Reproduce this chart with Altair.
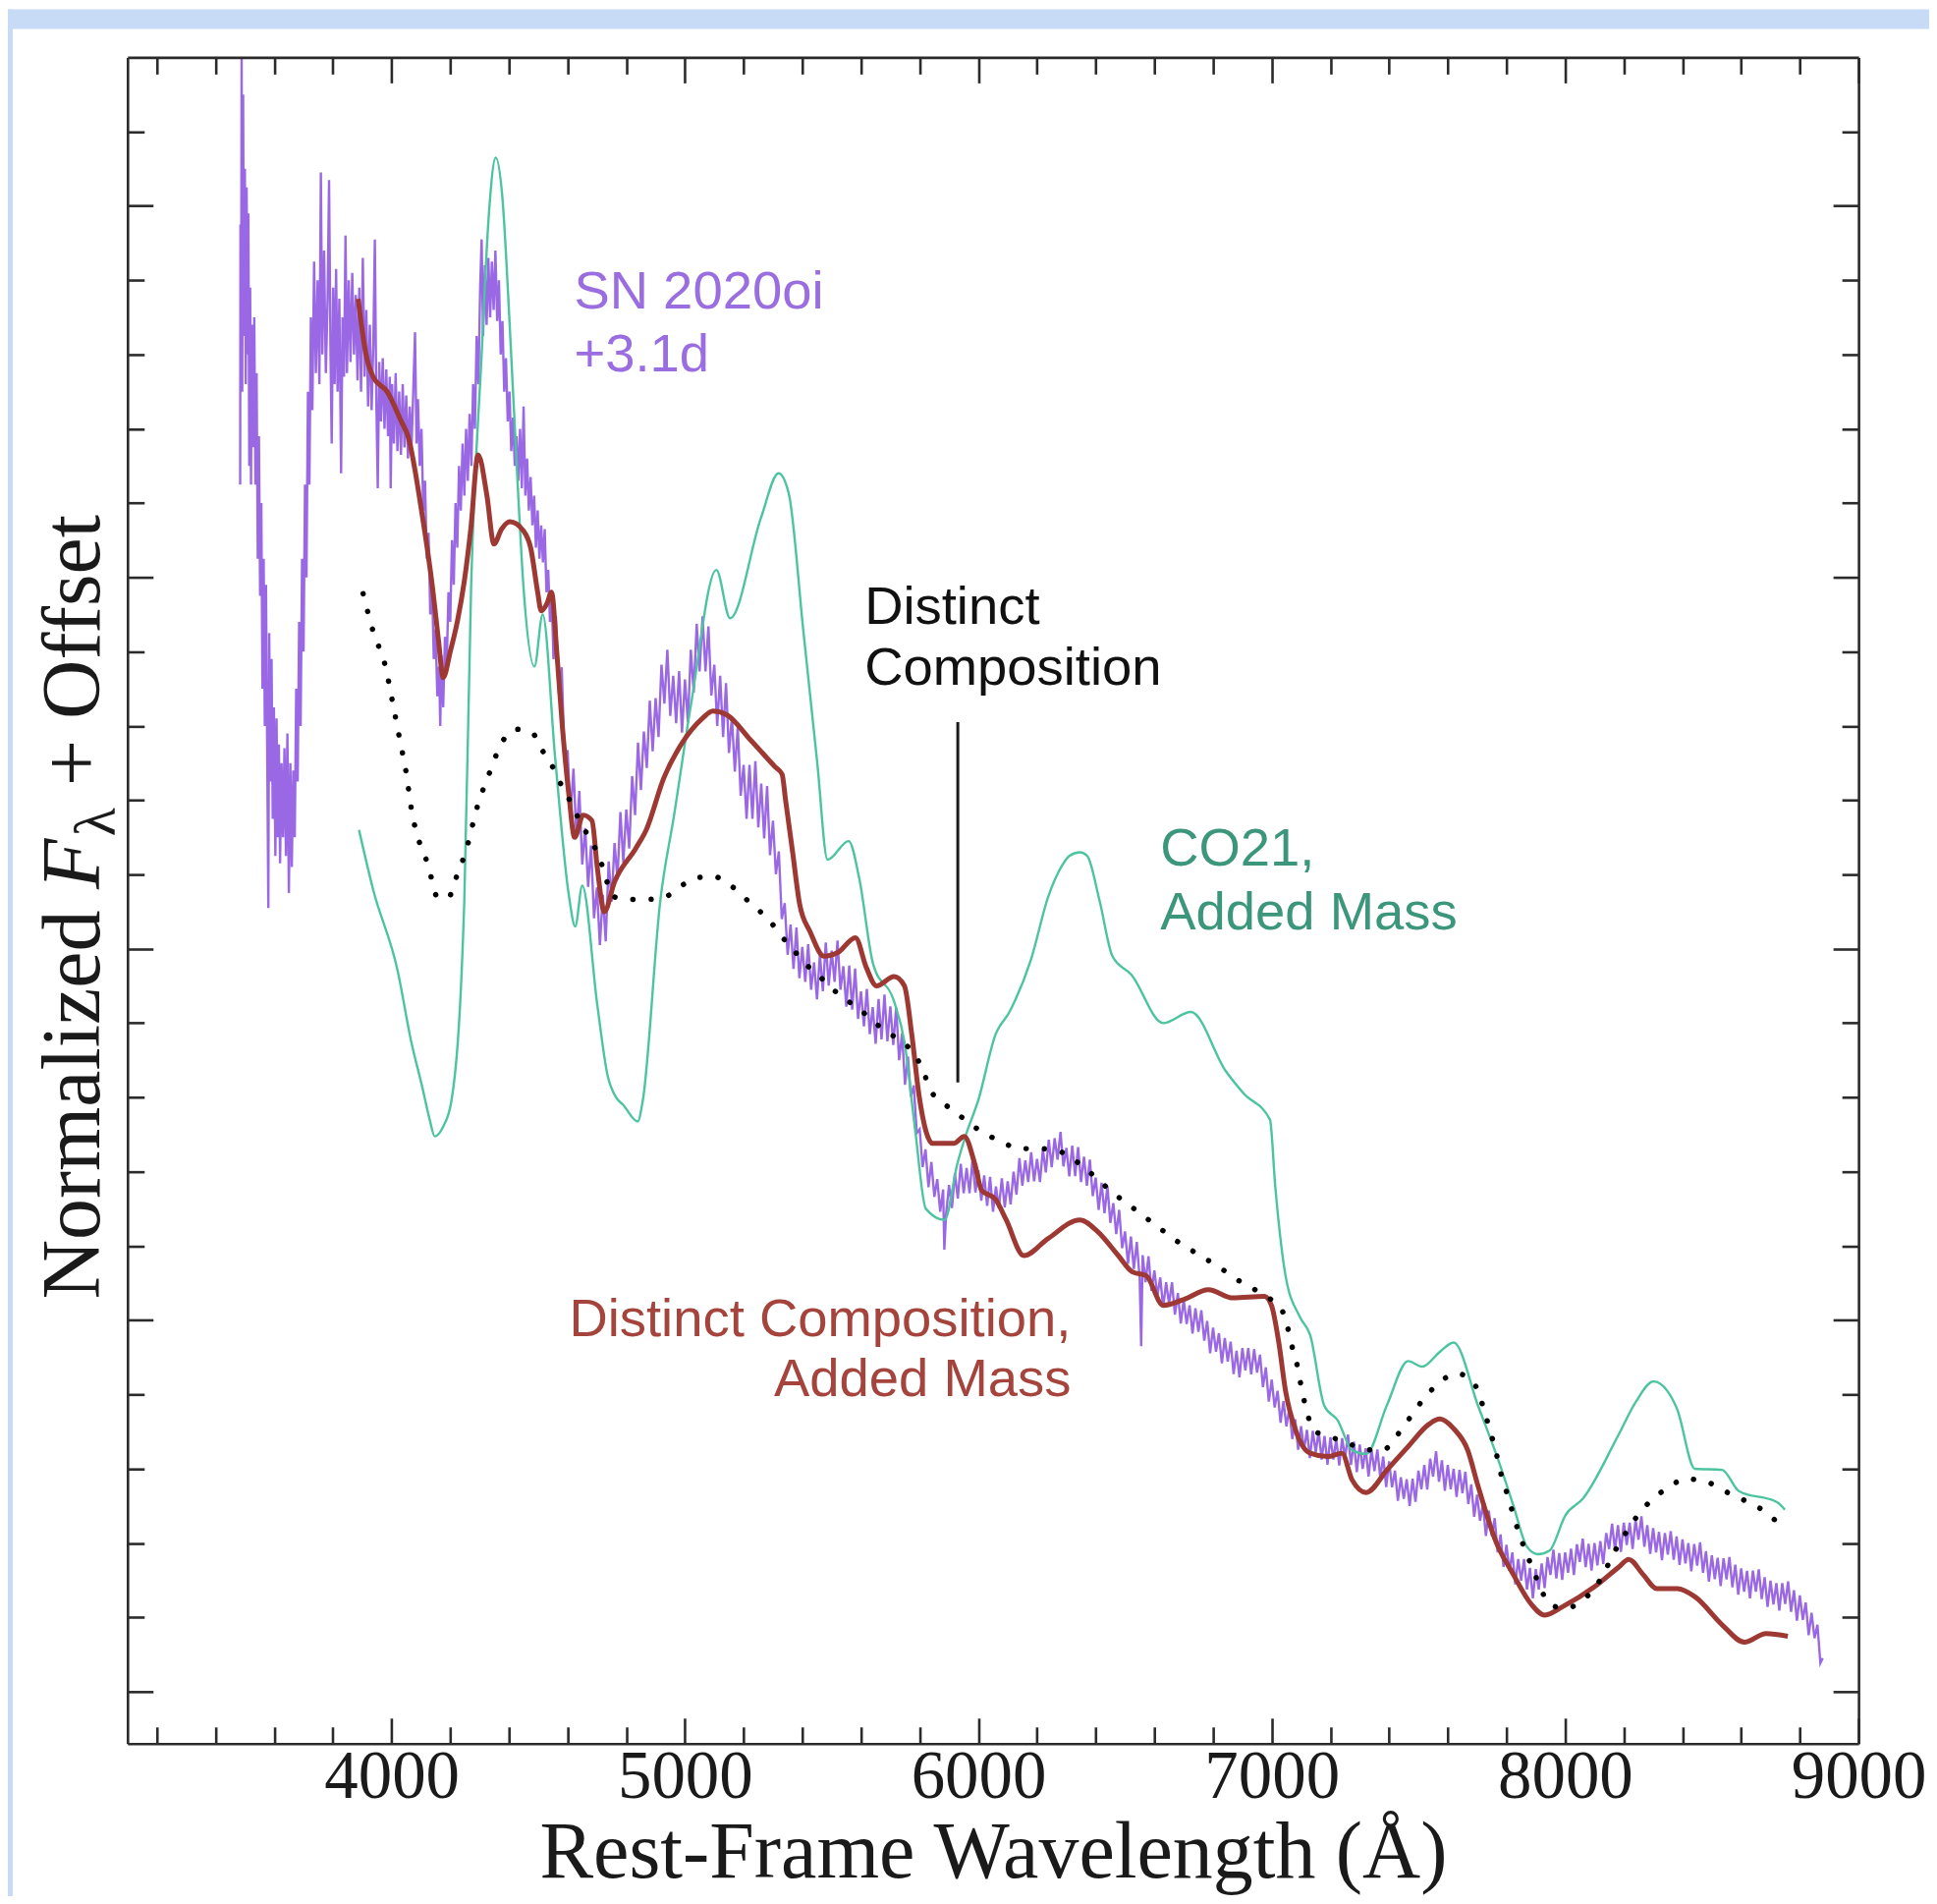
import altair as alt
import pandas as pd

# ---------------- layout ----------------
W, H = 1765, 1719
SERIF = "Liberation Serif, Times New Roman, serif"
SANS = "Liberation Sans, Helvetica, Arial, sans-serif"
INK = "#1a1a1a"
FRAME = "#2b2b2b"

X_DOMAIN = [3100, 9000]
Y_DOMAIN = [-1.4, 44.0]
X_MAJOR = [4000, 5000, 6000, 7000, 8000, 9000]
X_MINOR = [w for w in range(3200, 9000, 200) if w % 1000 != 0]
Y_MAJOR = [0, 10, 20, 30, 40]
Y_MINOR = [v for v in range(2, 44, 2) if v % 10 != 0]

# ---------------- data (wavelength in Angstrom, normalized flux + offset) ----------------
SN_2020OI = [
    (3484, 32.5), (3485, 39.5), (3487, 36.0), (3489, 44.0), (3491, 35.0), (3494, 43.0), (3497, 36.5), (3500, 41.0),
    (3503, 35.2), (3506, 40.5), (3509, 36.0), (3512, 39.8), (3515, 33.0), (3518, 37.8), (3521, 32.5), (3524, 36.8),
    (3528, 33.5), (3532, 37.0), (3536, 32.5), (3540, 35.5), (3544, 30.5), (3548, 33.8), (3552, 29.5), (3556, 32.0),
    (3560, 27.0), (3564, 30.5), (3568, 26.0), (3572, 29.8), (3576, 25.5), (3580, 21.1), (3583, 28.5), (3587, 24.5),
    (3591, 27.8), (3595, 23.5), (3599, 26.5), (3604, 22.5), (3608, 26.2), (3612, 23.0), (3616, 25.5), (3620, 22.3),
    (3625, 25.0), (3630, 23.0), (3635, 25.4), (3640, 22.5), (3645, 25.8), (3650, 21.5), (3655, 25.0), (3660, 22.2),
    (3665, 24.8), (3670, 23.0), (3675, 27.0), (3680, 24.5), (3685, 28.8), (3690, 26.0), (3695, 30.5), (3700, 28.0),
    (3705, 32.5), (3710, 30.0), (3715, 35.0), (3720, 32.5), (3725, 37.0), (3730, 34.5), (3736, 38.5), (3742, 35.5),
    (3748, 38.0), (3754, 35.2), (3759, 40.9), (3764, 36.0), (3770, 38.8), (3776, 35.5), (3782, 37.5), (3787, 40.7),
    (3792, 36.0), (3796, 33.6), (3801, 37.8), (3806, 35.2), (3811, 38.3), (3816, 35.0), (3822, 37.5), (3828, 32.8),
    (3833, 37.0), (3838, 35.4), (3843, 39.2), (3848, 35.5), (3854, 38.0), (3860, 35.8), (3866, 38.2), (3872, 36.0),
    (3878, 37.6), (3884, 35.3), (3890, 37.8), (3896, 35.0), (3902, 38.6), (3908, 35.4), (3914, 37.2), (3920, 34.6),
    (3926, 36.8), (3932, 34.5), (3938, 36.3), (3943, 39.1), (3948, 34.8), (3953, 32.4), (3958, 35.8), (3964, 34.2),
    (3970, 35.9), (3976, 34.0), (3982, 35.6), (3988, 33.8), (3994, 35.4), (3997, 32.4), (4002, 35.2), (4008, 33.6),
    (4014, 35.5), (4020, 33.4), (4026, 35.0), (4032, 33.3), (4038, 35.2), (4044, 33.5), (4050, 34.9), (4056, 33.2),
    (4062, 34.6), (4068, 33.5), (4074, 35.0), (4080, 36.6), (4085, 33.6), (4090, 34.8), (4096, 33.0), (4102, 34.0),
    (4108, 31.8), (4114, 32.6), (4120, 30.5), (4126, 31.2), (4132, 29.0), (4138, 29.8), (4144, 27.8), (4150, 28.6),
    (4156, 26.8), (4162, 27.6), (4166, 26.0), (4170, 27.9), (4176, 26.5), (4182, 28.4), (4188, 27.6), (4194, 29.6),
    (4200, 28.8), (4206, 31.0), (4212, 29.8), (4218, 32.0), (4224, 30.8), (4230, 33.0), (4236, 31.8), (4242, 33.6),
    (4248, 32.2), (4254, 34.0), (4260, 32.6), (4266, 34.4), (4272, 33.0), (4278, 35.2), (4284, 34.0), (4290, 36.5),
    (4296, 35.2), (4302, 37.8), (4307, 39.1), (4312, 36.5), (4318, 38.4), (4324, 36.8), (4330, 38.6), (4336, 37.0),
    (4342, 38.5), (4348, 37.2), (4354, 38.8), (4360, 36.9), (4366, 38.0), (4372, 36.0), (4378, 36.9), (4384, 35.0),
    (4390, 35.9), (4396, 34.2), (4402, 35.0), (4408, 33.4), (4414, 34.3), (4420, 33.0), (4426, 33.8), (4432, 32.6),
    (4438, 34.0), (4444, 32.4), (4450, 34.6), (4456, 32.2), (4462, 33.2), (4468, 31.8), (4474, 32.7), (4480, 31.4),
    (4486, 32.2), (4492, 30.8), (4498, 31.8), (4504, 30.5), (4510, 31.4), (4516, 30.4), (4522, 31.3), (4528, 29.6),
    (4534, 30.2), (4540, 28.8), (4546, 29.4), (4552, 27.8),
    (4560, 28.95), (4570, 26.87), (4580, 27.58), (4590, 25.02), (4600, 25.35), (4610, 23.6), (4620, 24.85), (4630, 23.0),
    (4640, 24.25), (4650, 22.27), (4660, 23.25), (4670, 21.67), (4680, 22.78), (4690, 20.82), (4700, 21.65), (4710, 20.1),
    (4720, 21.45), (4730, 20.2), (4740, 22.35), (4750, 21.27), (4760, 22.85), (4770, 21.87), (4780, 23.68), (4790, 22.32),
    (4800, 23.75), (4810, 22.7), (4820, 24.65), (4830, 23.6), (4840, 25.55), (4850, 24.27), (4860, 25.85), (4870, 24.87),
    (4880, 26.68), (4890, 25.32), (4900, 26.75), (4910, 25.7), (4920, 27.65), (4930, 26.6), (4940, 28.05), (4950, 26.27),
    (4960, 27.35), (4970, 26.07), (4980, 27.48), (4990, 25.82), (5000, 27.25), (5010, 26.1), (5020, 28.05), (5030, 26.9),
    (5040, 28.75), (5050, 27.47), (5060, 28.95), (5070, 27.47), (5080, 28.68), (5090, 26.82), (5100, 27.65), (5110, 26.0),
    (5120, 27.35), (5130, 25.7), (5140, 27.15), (5150, 25.27), (5160, 26.25), (5170, 24.77), (5180, 25.98), (5190, 24.12),
    (5200, 24.95), (5210, 23.5), (5220, 24.95), (5230, 23.5), (5240, 25.05), (5250, 23.27), (5260, 24.45), (5270, 22.97),
    (5280, 24.38), (5290, 22.52), (5300, 23.45), (5310, 22.01), (5320, 22.62), (5330, 20.8), (5340, 21.23), (5350, 19.84),
    (5360, 20.65), (5370, 19.46), (5380, 20.57), (5390, 19.21), (5400, 20.05), (5410, 19.11), (5420, 20.12), (5430, 18.9),
    (5440, 19.63), (5450, 18.64), (5460, 19.85), (5470, 18.86), (5480, 20.17), (5490, 19.01), (5500, 19.95), (5510, 19.11),
    (5520, 20.22), (5530, 18.9), (5540, 19.53), (5550, 18.44), (5560, 19.55), (5570, 18.36), (5580, 19.47), (5590, 18.11),
    (5600, 18.85), (5610, 17.91), (5620, 18.92), (5630, 17.7), (5640, 18.43), (5650, 17.44), (5660, 18.65), (5670, 17.56),
    (5680, 18.77), (5690, 17.51), (5700, 18.45), (5710, 17.41), (5720, 18.42), (5730, 17.0), (5740, 17.73), (5750, 16.34),
    (5760, 17.1), (5770, 16.02), (5780, 16.32), (5790, 15.04), (5800, 15.14), (5810, 14.12), (5820, 14.6), (5830, 13.58),
    (5840, 14.26), (5850, 13.32), (5860, 13.8), (5870, 12.92), (5880, 13.52), (5884, 11.9), (5890, 12.84), (5900, 13.64),
    (5910, 13.02), (5920, 13.95), (5930, 13.28), (5940, 14.21), (5950, 13.42), (5960, 14.1), (5970, 13.42), (5980, 14.32),
    (5990, 13.44), (6000, 14.04), (6010, 13.22), (6020, 13.9), (6030, 13.08), (6040, 13.86), (6050, 12.92), (6060, 13.6),
    (6070, 13.02), (6080, 13.82), (6090, 13.04), (6100, 13.74), (6110, 13.12), (6120, 14.0), (6130, 13.38), (6140, 14.36),
    (6150, 13.62), (6160, 14.3), (6170, 13.72), (6180, 14.52), (6190, 13.74), (6200, 14.34), (6210, 13.72), (6220, 14.6),
    (6230, 13.98), (6240, 14.86), (6250, 14.12), (6260, 14.9), (6270, 14.32), (6280, 15.07), (6290, 14.14), (6300, 14.64),
    (6310, 13.87), (6320, 14.7), (6330, 13.88), (6340, 14.66), (6350, 13.72), (6360, 14.4), (6370, 13.62), (6380, 14.32),
    (6390, 13.34), (6400, 13.84), (6410, 12.97), (6420, 13.7), (6430, 12.88), (6440, 13.61), (6450, 12.62), (6460, 13.15),
    (6470, 12.32), (6480, 12.97), (6490, 11.94), (6500, 12.39), (6510, 11.52), (6520, 12.25), (6530, 11.38), (6540, 12.11),
    (6550, 11.12), (6555, 9.3), (6560, 11.75), (6570, 11.02), (6580, 11.72), (6590, 10.79), (6600, 11.34), (6610, 10.65),
    (6620, 11.15), (6630, 10.34), (6640, 11.02), (6650, 10.44), (6660, 11.02), (6670, 10.15), (6680, 10.73), (6690, 9.91),
    (6700, 10.55), (6710, 9.9), (6720, 10.4), (6730, 9.64), (6740, 10.32), (6750, 9.69), (6760, 10.27), (6770, 9.45),
    (6780, 9.98), (6790, 9.11), (6800, 9.8), (6810, 9.15), (6820, 9.65), (6830, 8.84), (6840, 9.52), (6850, 8.89),
    (6860, 9.42), (6870, 8.55), (6880, 9.18), (6890, 8.46), (6900, 9.25), (6910, 8.65), (6920, 9.25), (6930, 8.54),
    (6940, 9.22), (6950, 8.59), (6960, 9.07), (6970, 8.2), (6980, 8.73), (6990, 7.81), (7000, 8.4), (7010, 7.65),
    (7020, 8.1), (7030, 7.24), (7040, 7.82), (7050, 7.14), (7060, 7.62), (7070, 6.8), (7080, 7.33), (7090, 6.51),
    (7100, 7.15), (7110, 6.5), (7120, 7.05), (7130, 6.29), (7140, 7.02), (7150, 6.44), (7160, 7.02), (7170, 6.25),
    (7180, 6.88), (7190, 6.11), (7200, 6.85), (7210, 6.25), (7220, 6.8), (7230, 6.09), (7240, 6.82), (7250, 6.29),
    (7260, 6.92), (7270, 6.1), (7280, 6.73), (7290, 5.91), (7300, 6.65), (7310, 6.0), (7320, 6.55), (7330, 5.79),
    (7340, 6.52), (7350, 5.94), (7360, 6.52), (7370, 5.75), (7380, 6.33), (7390, 5.51), (7400, 6.2), (7410, 5.5),
    (7420, 5.95), (7430, 5.14), (7440, 5.77), (7450, 5.19), (7460, 5.72), (7470, 5.0), (7480, 5.73), (7490, 5.11),
    (7500, 5.95), (7510, 5.45), (7520, 6.1), (7530, 5.44), (7540, 6.27), (7550, 5.79), (7560, 6.47), (7570, 5.65),
    (7580, 6.23), (7590, 5.41), (7600, 6.1), (7610, 5.45), (7620, 6.0), (7630, 5.24), (7640, 5.97), (7650, 5.34),
    (7660, 5.92), (7670, 5.05), (7680, 5.58), (7690, 4.71), (7700, 5.3), (7710, 4.6), (7720, 5.05), (7730, 4.19),
    (7740, 4.87), (7750, 4.19), (7760, 4.67), (7770, 3.75), (7780, 4.23), (7790, 3.36), (7800, 3.95), (7810, 3.25),
    (7820, 3.75), (7830, 2.89), (7840, 3.57), (7850, 2.99), (7860, 3.57), (7870, 2.75), (7880, 3.33), (7890, 2.51),
    (7900, 3.3), (7910, 2.75), (7920, 3.45), (7930, 2.79), (7940, 3.62), (7950, 3.14), (7960, 3.82), (7970, 3.05),
    (7980, 3.73), (7990, 3.01), (8000, 3.75), (8010, 3.2), (8020, 3.85), (8030, 3.14), (8040, 3.97), (8050, 3.49),
    (8060, 4.12), (8070, 3.35), (8080, 3.98), (8090, 3.26), (8100, 4.0), (8110, 3.4), (8120, 4.05), (8130, 3.44),
    (8140, 4.27), (8150, 3.84), (8160, 4.52), (8170, 3.8), (8180, 4.48), (8190, 3.76), (8200, 4.55), (8210, 3.95),
    (8220, 4.55), (8230, 3.84), (8240, 4.62), (8250, 4.09), (8260, 4.72), (8270, 3.9), (8280, 4.48), (8290, 3.71),
    (8300, 4.4), (8310, 3.75), (8320, 4.3), (8330, 3.54), (8340, 4.27), (8350, 3.69), (8360, 4.32), (8370, 3.55),
    (8380, 4.18), (8390, 3.41), (8400, 4.1), (8410, 3.45), (8420, 4.0), (8430, 3.24), (8440, 3.97), (8450, 3.39),
    (8460, 4.02), (8470, 3.2), (8480, 3.78), (8490, 2.96), (8500, 3.67), (8510, 3.03), (8520, 3.6), (8530, 2.84),
    (8540, 3.59), (8550, 3.02), (8560, 3.62), (8570, 2.81), (8580, 3.42), (8590, 2.61), (8600, 3.32), (8610, 2.69),
    (8620, 3.25), (8630, 2.51), (8640, 3.26), (8650, 2.69), (8660, 3.29), (8670, 2.49), (8680, 3.08), (8690, 2.28),
    (8700, 2.99), (8710, 2.35), (8720, 2.92), (8730, 2.18), (8740, 2.92), (8750, 2.36), (8760, 2.97), (8770, 2.15),
    (8780, 2.73), (8790, 1.91), (8800, 2.59), (8810, 1.93), (8820, 2.4), (8830, 1.52), (8840, 2.12), (8850, 1.44),
    (8860, 1.8), (8870, 0.77), (8878, 0.9),
]

CO21_ADDED_MASS = [
    (3889, 23.2), (3937, 21.6), (4021, 19.4), (4067, 17.5), (4104, 16.3), (4130, 15.4), (4147, 14.95), (4175, 15.2),
    (4204, 15.9), (4248, 21.3), (4271, 29.7), (4307, 36.0), (4331, 39.7), (4355, 41.3), (4378, 40.2), (4402, 36.9),
    (4426, 33.1), (4450, 29.7), (4487, 27.6), (4515, 29.0), (4558, 25.1), (4605, 21.4), (4626, 20.6), (4650, 21.7),
    (4701, 18.5), (4736, 16.6), (4765, 16.0), (4789, 15.8), (4839, 15.35), (4856, 15.9), (4916, 21.3), (4963, 23.6),
    (5023, 26.7), (5107, 30.2), (5154, 28.9), (5259, 31.6), (5319, 32.8), (5354, 32.25), (5403, 28.6), (5451, 25.0),
    (5486, 22.4), (5558, 22.9), (5594, 21.9), (5641, 19.6), (5712, 18.6), (5748, 17.5), (5785, 15.1), (5821, 13.0),
    (5885, 12.7), (5928, 14.2), (5958, 15.0), (5999, 15.9), (6059, 17.7), (6106, 18.3), (6179, 19.7), (6238, 21.4),
    (6286, 22.25), (6310, 22.5), (6346, 22.6), (6371, 22.5), (6413, 21.3), (6457, 19.8), (6522, 19.3), (6630, 18.0),
    (6724, 18.3), (6844, 16.7), (6905, 16.1), (6994, 15.4), (7012, 13.6), (7047, 11.2), (7095, 10.1), (7131, 9.6),
    (7179, 7.7), (7225, 7.3), (7274, 6.5), (7322, 6.4), (7392, 7.7), (7465, 8.9), (7513, 8.75), (7573, 9.15),
    (7620, 9.4), (7703, 7.7), (7776, 6.15), (7824, 5.0), (7870, 3.9), (7907, 3.7), (7947, 3.8), (8001, 4.75),
    (8061, 5.2), (8181, 6.9), (8241, 7.8), (8301, 8.35), (8348, 8.1), (8382, 7.6), (8442, 6.0), (8535, 5.97),
    (8592, 5.4), (8722, 5.1), (8749, 4.9),
]

DISTINCT_ADDED_MASS = [
    (3886, 37.5), (3913, 36.0), (3937, 35.4), (3985, 35.0), (4033, 34.2), (4056, 33.8), (4104, 31.7), (4140, 29.7),
    (4160, 28.3), (4176, 27.3), (4200, 28.0), (4224, 28.8), (4248, 29.9), (4270, 31.3), (4295, 33.3), (4325, 32.2),
    (4349, 30.9), (4375, 31.3), (4403, 31.5), (4450, 31.25), (4474, 30.8), (4498, 29.6), (4510, 29.1), (4530, 29.3),
    (4545, 29.6), (4564, 27.9), (4582, 26.0), (4605, 24.1), (4624, 23.0), (4653, 23.6), (4683, 23.45), (4701, 22.2),
    (4725, 21.0), (4760, 21.8), (4832, 22.7), (4868, 23.2), (4928, 24.6), (4987, 25.5), (5059, 26.2), (5095, 26.4),
    (5142, 26.3), (5226, 25.6), (5307, 24.9), (5331, 24.7), (5343, 24.0), (5367, 22.6), (5391, 21.2), (5427, 20.45),
    (5474, 19.8), (5521, 19.9), (5581, 20.3), (5618, 19.5), (5653, 19.0), (5713, 19.25), (5748, 19.0), (5773, 17.7),
    (5797, 16.1), (5821, 15.1), (5844, 14.76), (5916, 14.76), (5952, 14.95), (5988, 14.2), (6011, 13.5), (6059, 13.25),
    (6095, 12.7), (6155, 11.74), (6238, 12.2), (6346, 12.7), (6405, 12.4), (6477, 11.74), (6525, 11.3), (6572, 11.2),
    (6630, 10.4), (6701, 10.56), (6784, 10.82), (6868, 10.6), (6975, 10.64), (6999, 10.4), (7024, 9.4), (7047, 8.1),
    (7083, 7.0), (7131, 6.42), (7191, 6.33), (7239, 6.42), (7274, 5.7), (7322, 5.36), (7394, 5.98), (7465, 6.6),
    (7536, 7.2), (7573, 7.34), (7620, 7.08), (7668, 6.5), (7703, 5.54), (7764, 4.04), (7823, 3.16), (7883, 2.37),
    (7931, 2.06), (7990, 2.28), (8098, 2.81), (8181, 3.34), (8217, 3.56), (8265, 3.16), (8313, 2.77), (8382, 2.77),
    (8443, 2.55), (8535, 1.8), (8611, 1.33), (8685, 1.56), (8759, 1.49),
]

DISTINCT = [
    (3903, 29.56), (3937, 28.55), (3979, 27.6), (4003, 26.66), (4027, 25.67), (4050, 24.73), (4068, 23.74), (4098, 22.79),
    (4122, 22.32), (4158, 21.38), (4194, 21.38), (4217, 21.85), (4259, 22.79), (4289, 23.74), (4331, 24.68), (4378, 25.58),
    (4426, 25.91), (4480, 25.81), (4510, 25.39), (4545, 24.96), (4570, 24.54), (4599, 24.12), (4653, 23.27), (4689, 22.79),
    (4712, 22.37), (4731, 21.9), (4749, 21.43), (4808, 21.33), (4868, 21.33), (4928, 21.38), (4981, 21.66), (5035, 21.9),
    (5095, 21.95), (5155, 21.71), (5202, 21.38), (5250, 21.05), (5292, 20.72), (5331, 20.32), (5373, 19.94), (5414, 19.57),
    (5456, 19.28), (5504, 18.91), (5551, 18.62), (5600, 18.34), (5647, 18.01), (5695, 17.73), (5748, 17.45), (5790, 17.07),
    (5815, 16.64), (5839, 16.17), (5880, 15.85), (5928, 15.56), (5982, 15.23), (6029, 15.0), (6089, 14.76), (6143, 14.62),
    (6208, 14.62), (6268, 14.57), (6322, 14.34), (6370, 14.05), (6417, 13.72), (6465, 13.39), (6513, 13.11), (6560, 12.82),
    (6607, 12.55), (6662, 12.21), (6719, 11.92), (6773, 11.66), (6823, 11.42), (6874, 11.13), (6928, 10.89), (6982, 10.63),
    (7030, 10.34), (7053, 9.85), (7065, 9.41), (7083, 8.93), (7095, 8.44), (7107, 7.96), (7122, 7.47), (7143, 7.03),
    (7200, 6.86), (7262, 6.68), (7322, 6.51), (7381, 6.51), (7423, 6.86), (7459, 7.24), (7495, 7.65), (7531, 8.0),
    (7578, 8.37), (7632, 8.56), (7686, 8.35), (7710, 7.92), (7728, 7.47), (7745, 6.99), (7763, 6.51), (7776, 6.02),
    (7794, 5.54), (7811, 5.1), (7829, 4.61), (7847, 4.17), (7870, 3.69), (7895, 3.2), (7918, 2.77), (7943, 2.37),
    (8002, 2.24), (8058, 2.46), (8103, 2.81), (8133, 3.2), (8163, 3.69), (8193, 4.09), (8223, 4.48), (8262, 4.88),
    (8303, 5.23), (8354, 5.49), (8405, 5.73), (8480, 5.65), (8573, 5.28), (8657, 4.97), (8741, 4.44),
]

# annotation marker (wavelength, top flux, bottom flux)
MARKER = [(5930, 26.1, 16.4)]

# text labels: (text, wavelength, flux, colour, align)
LABELS = [
    ("SN 2020oi", 4622, 37.24, "#9a6de0", "left"),
    ("+3.1d", 4622, 35.54, "#9a6de0", "left"),
    ("Distinct", 5612, 28.76, "#111111", "left"),
    ("Composition", 5612, 27.10, "#111111", "left"),
    ("CO21,", 6620, 22.25, "#3b967b", "left"),
    ("Added Mass", 6620, 20.52, "#3b967b", "left"),
    ("Distinct Composition,", 6316, 9.57, "#a5443c", "right"),
    ("Added Mass", 6316, 7.97, "#a5443c", "right"),
]

# y-axis title pieces: (text, position along the axis from the bottom, shift, size, style)
Y_TITLE_PARTS = [
    ("Normalized", 1266, 0, 84, "normal"),
    ("F", 848, 0, 84, "italic"),
    ("λ", 794, 16, 60, "normal"),
    ("+ Offset", 743, 0, 84, "normal"),
]

COL_SN = "#9a68e4"
COL_CO21 = "#4cc4a0"
COL_DCAM = "#9d3832"


def frame(pairs):
    return pd.DataFrame(pairs, columns=["w", "f"])


XS = alt.Scale(domain=X_DOMAIN, nice=False, zero=False)
YS = alt.Scale(domain=Y_DOMAIN, nice=False, zero=False)


def tick_axis(orient, offset, values, size, domain):
    return alt.Axis(orient=orient, offset=offset, values=values, ticks=True, tickSize=size,
                    tickWidth=2.6, tickColor=FRAME, labels=False, domain=domain,
                    domainWidth=2.6, domainColor=FRAME, grid=False, title=None, zindex=2)


AX_X_LABELS = alt.Axis(orient="bottom", values=X_MAJOR, format="d", labelFont=SERIF, labelFontSize=69,
                       labelColor=INK, labelPadding=0, labelFlush=False, labelOverlap=False,
                       labelBaseline="top", ticks=False, tickSize=0, domain=False, grid=False,
                       title="Rest-Frame Wavelength (Å)", titleFont=SERIF, titleFontSize=82,
                       titleFontWeight="normal", titleColor=INK, titleBaseline="alphabetic",
                       titleAlign="center", titleX=W / 2, titleY=136, zindex=1)

# x tick axes (inward)
AX_XB_MAJ = tick_axis("top", -H, X_MAJOR, 26, True)
AX_XB_MIN = tick_axis("top", -H, X_MINOR, 17, False)
AX_XT_MAJ = tick_axis("bottom", -H, X_MAJOR, 26, True)
AX_XT_MIN = tick_axis("bottom", -H, X_MINOR, 17, False)
# y tick axes (inward)
AX_YL_MAJ = tick_axis("right", -W, Y_MAJOR, 26, True)
AX_YL_MIN = tick_axis("right", -W, Y_MINOR, 17, False)
AX_YR_MAJ = tick_axis("left", -W, Y_MAJOR, 26, True)
AX_YR_MIN = tick_axis("left", -W, Y_MINOR, 17, False)


def enc_xy(xaxis, yaxis):
    return dict(x=alt.X("w:Q", scale=XS, axis=xaxis), y=alt.Y("f:Q", scale=YS, axis=yaxis))


dummy = pd.DataFrame({"k": [0]})
band_top = alt.Chart(dummy).mark_rect(color="#c8dbf6").encode(
    x=alt.value(-122), x2=alt.value(W + 80), y=alt.value(-49), y2=alt.value(-29))
band_left = alt.Chart(dummy).mark_rect(color="#c8dbf6").encode(
    x=alt.value(-122), x2=alt.value(-117), y=alt.value(-49), y2=alt.value(H + 160))

sn = alt.Chart(frame(SN_2020OI)).mark_line(color=COL_SN, strokeWidth=2.4, clip=True).encode(
    order="w:Q", **enc_xy(AX_X_LABELS, None))
co21 = alt.Chart(frame(CO21_ADDED_MASS)).mark_line(color=COL_CO21, strokeWidth=2.4, interpolate="monotone",
                                                   clip=True).encode(**enc_xy(AX_XB_MAJ, AX_YL_MAJ))
dcam = alt.Chart(frame(DISTINCT_ADDED_MASS)).mark_line(color=COL_DCAM, strokeWidth=5, strokeJoin="round",
                                                        interpolate="monotone", clip=True).encode(
    **enc_xy(AX_XB_MIN, AX_YL_MIN))
dist = alt.Chart(frame(DISTINCT)).mark_line(color="#000000", strokeWidth=5.5, strokeCap="round",
                                            strokeDash=[0.1, 18.5], interpolate="monotone", clip=True).encode(
    **enc_xy(AX_XT_MAJ, AX_YR_MAJ))

marker_df = pd.DataFrame(MARKER, columns=["w", "f", "f2"])
marker = alt.Chart(marker_df).mark_rule(color="#1a1a1a", strokeWidth=3).encode(
    x=alt.X("w:Q", scale=XS, axis=AX_XT_MIN), y=alt.Y("f:Q", scale=YS, axis=AX_YR_MIN), y2="f2:Q")

label_layers = []
for text, w, f, col, align in LABELS:
    df = pd.DataFrame({"w": [w], "f": [f], "t": [text]})
    label_layers.append(
        alt.Chart(df).mark_text(align=align, baseline="alphabetic", font=SANS, fontSize=54.5, color=col).encode(
            x=alt.X("w:Q", scale=XS, axis=None), y=alt.Y("f:Q", scale=YS, axis=None), text="t:N"))

# rotated y-axis title with italic F and subscript lambda
title_layers = []
for text, pos, shift, size, style in Y_TITLE_PARTS:
    title_layers.append(
        alt.Chart(dummy).mark_text(align="left", baseline="alphabetic", angle=270, font=SERIF,
                                   fontSize=size, fontStyle=style, color=INK).encode(
            x=alt.value(-29 + shift), y=alt.value(pos), text=alt.value(text)))

chart = alt.layer(band_top, band_left, sn, co21, dcam, dist, marker, *label_layers, *title_layers).resolve_axis(
    x="independent", y="independent"
).properties(
    width=W, height=H,
    autosize=alt.AutoSizeParams(type="none"),
    padding={"left": 122, "top": 49, "right": 72, "bottom": 154},
    background="white",
).configure_view(stroke="transparent")

chart.save("out.html", embed_options={"renderer": "svg", "actions": False})
